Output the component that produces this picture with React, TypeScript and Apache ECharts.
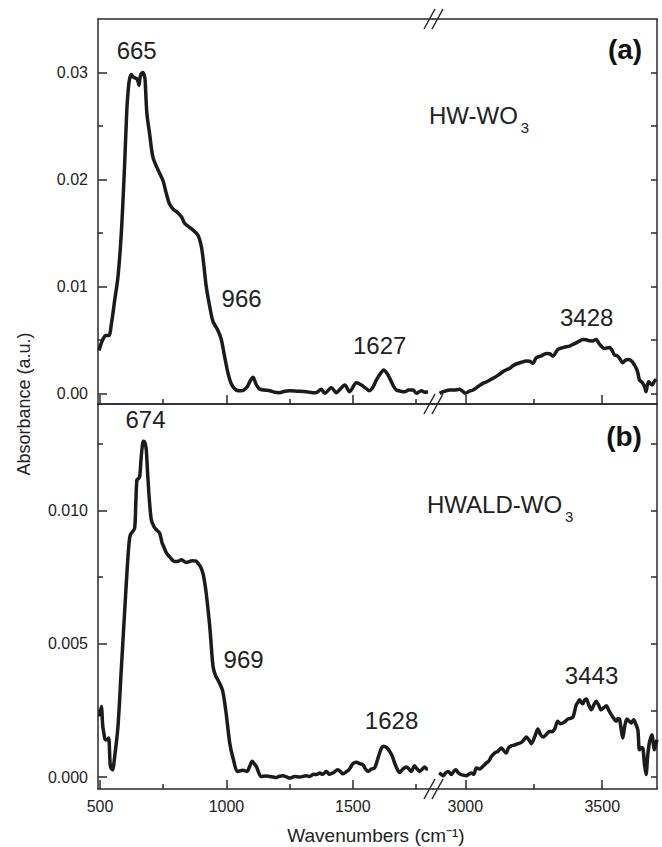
import React, { useEffect, useRef } from 'react';
import * as echarts from 'echarts';

// ---------- Data (wavenumber cm-1, absorbance a.u.) ----------
const aLeft: [number, number][] = [
  [496, 0.0040], [505, 0.0047], [515, 0.0052], [522, 0.0054], [535, 0.0054], [545, 0.0065], [558, 0.0087], [571, 0.0109],
  [584, 0.0149], [597, 0.0212], [606, 0.0265], [612, 0.0285], [617, 0.0294], [624, 0.0298], [630, 0.0296], [637, 0.0295],
  [646, 0.0294], [651, 0.0291], [654, 0.0288], [659, 0.0296], [664, 0.0299], [670, 0.0300], [675, 0.0297], [678, 0.0294],
  [682, 0.0275], [686, 0.0260], [696, 0.0243], [709, 0.0221], [729, 0.0209], [749, 0.0199], [762, 0.0187], [775, 0.0177],
  [790, 0.0172], [802, 0.0170], [822, 0.0165], [835, 0.0159], [861, 0.0154], [887, 0.0148], [901, 0.0137], [910, 0.0121],
  [920, 0.0100], [934, 0.0081], [947, 0.0067], [966, 0.0059], [980, 0.0050], [993, 0.0034], [1006, 0.0019], [1019, 0.0009],
  [1039, 0.0003], [1059, 0.00024], [1079, 0.0005], [1095, 0.0012], [1105, 0.0015], [1118, 0.0008], [1131, 0.0004], [1150, 0.0003],
  [1171, 0.00024], [1190, 0.0001], [1210, 0.00006], [1230, 0.0002], [1250, 0.00024], [1280, 0.0002], [1316, 0.00015], [1342, 0.00006],
  [1356, 0.00008], [1375, 0.00037], [1389, 0.0], [1415, 0.00053], [1435, 0.00006], [1450, 0.0004], [1468, 0.00078], [1487, 0.00015],
  [1514, 0.00099], [1534, 0.00078], [1550, 0.0005], [1566, 0.00024], [1580, 0.0006], [1593, 0.00124], [1608, 0.0018], [1622, 0.00218],
  [1634, 0.0019], [1646, 0.0014], [1660, 0.0007], [1672, 0.00031], [1690, 0.0002], [1705, 0.00015], [1720, 0.0003], [1738, 0.00031],
  [1751, 0.0], [1771, 0.00024], [1785, 0.0001], [1797, 0.00015],
];
const aRight: [number, number][] = [
  [2906, 0.0], [2925, 0.0002], [2943, 0.00031], [2960, 0.0003], [2979, 0.00037], [2990, 0.0002], [3000, 0.0], [3015, 0.0002],
  [3028, 0.00031], [3045, 0.0006], [3064, 0.00093], [3080, 0.0011], [3101, 0.0014], [3120, 0.0017], [3137, 0.00202], [3150, 0.0022],
  [3162, 0.00233], [3175, 0.0026], [3186, 0.00274], [3205, 0.0029], [3223, 0.00302], [3235, 0.0030], [3247, 0.0028], [3259, 0.00333],
  [3278, 0.0035], [3296, 0.00373], [3308, 0.0037], [3320, 0.00348], [3338, 0.00411], [3360, 0.0043], [3381, 0.00442], [3395, 0.0046],
  [3405, 0.00472], [3418, 0.0049], [3429, 0.00504], [3442, 0.0050], [3454, 0.00491], [3466, 0.0049], [3478, 0.00504], [3490, 0.0046],
  [3508, 0.0042], [3527, 0.00429], [3536, 0.0040], [3545, 0.00358], [3555, 0.0035], [3563, 0.00327], [3575, 0.00286], [3585, 0.0031],
  [3597, 0.00317], [3608, 0.0030], [3618, 0.00264], [3625, 0.0023], [3630, 0.00192], [3636, 0.00124], [3642, 0.0011], [3648, 0.00093],
  [3655, 0.0006], [3660, 0.00015], [3665, 0.0008], [3670, 0.00108], [3676, 0.0009], [3682, 0.00078], [3690, 0.0011], [3697, 0.00131],
];
const bLeft: [number, number][] = [
  [498, 0.00227], [505, 0.00265], [511, 0.0019], [516, 0.0016], [521, 0.0014], [528, 0.0014], [534, 0.00146], [541, 0.0004],
  [549, 0.00027], [558, 0.00077], [571, 0.0019], [584, 0.00402], [597, 0.00615], [608, 0.0079], [615, 0.0088], [620, 0.00909],
  [628, 0.0092], [637, 0.00934], [642, 0.0104], [646, 0.01115], [652, 0.0112], [657, 0.01128], [662, 0.0119], [667, 0.0124],
  [671, 0.0126], [675, 0.01259], [679, 0.0125], [683, 0.01228], [689, 0.01128], [696, 0.0103], [703, 0.00965], [713, 0.0094],
  [723, 0.00928], [736, 0.00915], [745, 0.0088], [752, 0.00865], [763, 0.0084], [775, 0.00827], [795, 0.00809], [810, 0.0081],
  [822, 0.00815], [841, 0.00805], [865, 0.00812], [880, 0.0081], [887, 0.00803], [897, 0.0079], [907, 0.00765], [914, 0.0073],
  [920, 0.0069], [934, 0.00565], [947, 0.00415], [957, 0.0038], [966, 0.00365], [984, 0.00327], [997, 0.00252], [1013, 0.00128],
  [1026, 0.00071], [1045, 0.00021], [1065, 0.00025], [1081, 0.00021], [1092, 0.0004], [1102, 0.00059], [1110, 0.0005], [1118, 0.0004],
  [1138, 0.00002], [1155, 0.00004], [1171, 0.00002], [1184, 0.0], [1197, -0.00002], [1210, 0.00003], [1224, 0.00005], [1238, 0.0],
  [1250, -0.00004], [1270, 0.00002], [1290, 0.0], [1316, 0.00005], [1329, 0.00002], [1345, 0.0001], [1356, 0.00009], [1369, 0.00015],
  [1380, 0.0001], [1395, 0.00021], [1408, 0.0001], [1421, 0.00015], [1441, 0.00027], [1451, 0.0002], [1461, 0.00012], [1475, 0.0002],
  [1487, 0.0003], [1500, 0.0005], [1514, 0.00055], [1527, 0.0005], [1540, 0.00046], [1550, 0.0003], [1560, 0.00021], [1573, 0.0003],
  [1586, 0.00034], [1596, 0.0006], [1606, 0.0009], [1614, 0.0011], [1622, 0.00115], [1634, 0.0011], [1646, 0.00096], [1655, 0.0008],
  [1665, 0.00053], [1675, 0.0003], [1685, 0.00017], [1698, 0.0003], [1712, 0.00038], [1722, 0.0003], [1731, 0.00021], [1744, 0.00042],
  [1754, 0.0003], [1764, 0.00021], [1775, 0.0003], [1784, 0.00038], [1792, 0.0003], [1797, 0.0003],
];
const bRight: [number, number][] = [
  [2904, 0.00015], [2912, 0.0001], [2919, 0.00005], [2928, 0.00015], [2937, 0.00021], [2949, 0.00009], [2957, 0.0002], [2965, 0.00027],
  [2975, 0.00015], [2985, 0.00009], [3004, 0.00005], [3012, 0.0001], [3022, 0.00015], [3031, 0.0001], [3040, 0.00034], [3052, 0.0003],
  [3064, 0.0004], [3077, 0.00053], [3086, 0.0006], [3095, 0.00077], [3107, 0.0009], [3119, 0.00096], [3131, 0.00109], [3140, 0.001],
  [3149, 0.0009], [3158, 0.0011], [3168, 0.00117], [3180, 0.0012], [3192, 0.00125], [3205, 0.0013], [3214, 0.0014], [3223, 0.0015],
  [3232, 0.0014], [3241, 0.00125], [3253, 0.0015], [3265, 0.0018], [3274, 0.0016], [3284, 0.0015], [3296, 0.0016], [3308, 0.00171],
  [3317, 0.0017], [3326, 0.0018], [3338, 0.00209], [3348, 0.002], [3356, 0.00203], [3366, 0.0021], [3375, 0.00218], [3384, 0.0022],
  [3393, 0.00225], [3400, 0.0025], [3405, 0.00271], [3411, 0.0028], [3417, 0.0029], [3423, 0.0028], [3429, 0.00275], [3436, 0.0029],
  [3442, 0.00293], [3451, 0.0027], [3460, 0.00252], [3469, 0.0027], [3478, 0.00284], [3487, 0.0027], [3496, 0.00252], [3506, 0.0026],
  [3515, 0.00267], [3524, 0.0025], [3533, 0.00234], [3542, 0.0022], [3551, 0.00209], [3557, 0.0022], [3563, 0.00218], [3569, 0.0018],
  [3575, 0.00146], [3582, 0.0019], [3590, 0.00218], [3598, 0.0021], [3606, 0.00203], [3615, 0.00215], [3622, 0.002], [3630, 0.00177],
  [3636, 0.00102], [3642, 0.0011], [3648, 0.00109], [3654, 0.0005], [3660, 0.00009], [3666, 0.0008], [3672, 0.00128], [3678, 0.0015],
  [3682, 0.00159], [3686, 0.0013], [3690, 0.00102], [3695, 0.0012], [3700, 0.0014],
];

// ---------- Ticks and labels ----------
const xMajorLeft = [500, 1000, 1500];
const xMinorLeft = [750, 1250, 1750];
const xMajorRight = [3000, 3500];
const xMinorRight = [3250];
const yMajorA = [0, 0.01, 0.02, 0.03];
const yMinorA = [0.005, 0.015, 0.025];
const yRightA = [0, 0.005, 0.01, 0.015, 0.02, 0.025, 0.03];
const yMajorB = [0, 0.005, 0.01];
const yMinorB = [0.0025, 0.0075, 0.0125];
const yRightB = [0, 0.0025, 0.005, 0.0075, 0.01, 0.0125];

const peakLabelsA = ['665', '966', '1627', '3428'];
const peakLabelsB = ['674', '969', '1628', '3443'];
const panelLabels = ['(a)', '(b)'];
const sampleNames = ['HW-WO', 'HWALD-WO'];
const sampleSub = '3';
const yTitle = 'Absorbance (a.u.)';
const xTitle = 'Wavenumbers (cm\u207B\u00B9)';

const FONT = '"Liberation Sans", Arial, Helvetica, sans-serif';
const LINE = '#2a2a2a';
const TRACE = '#1b1b1b';

function textWidth(text: string, font: string): number {
  const c = document.createElement('canvas').getContext('2d');
  if (!c) return text.length * 12;
  c.font = font;
  return c.measureText(text).width;
}

export default function App() {
  const ref = useRef<HTMLDivElement>(null);

  useEffect(() => {
    document.body.style.margin = '0';
    const chart = echarts.init(ref.current!, undefined, { renderer: 'svg' });

    const L = 98, SPLIT = 433, R = 657;
    const TA = 19, MID = 404, BB = 789;
    const xRangeL = [492, 1817];
    const xRangeR = [2882, 3700];
    const yRangeA = [-0.001, 0.035];
    const yRangeB = [-0.00045, 0.014];

    const grids = [
      { left: L, top: TA, width: SPLIT - L, height: MID - TA },
      { left: SPLIT, top: TA, width: R - SPLIT, height: MID - TA },
      { left: L, top: MID, width: SPLIT - L, height: BB - MID },
      { left: SPLIT, top: MID, width: R - SPLIT, height: BB - MID },
    ].map((g) => ({ ...g, containLabel: false, outerBoundsMode: 'none' }));

    const lineStyle = { color: LINE, width: 1.5 };
    const labelStyle = { color: '#222', fontSize: 16, fontFamily: FONT };

    const xAxesFor = (gridIndex: number, range: number[], majors: number[], minors: number[], showLabels: boolean) => [
      {
        type: 'value', gridIndex, min: range[0], max: range[1], position: 'bottom', splitLine: { show: false },
        axisLine: { show: true, onZero: false, lineStyle },
        axisTick: { show: true, inside: true, length: 9, customValues: majors, lineStyle },
        axisLabel: { show: showLabels, customValues: majors, margin: 9, formatter: (v: number) => String(v), ...labelStyle },
      },
      {
        type: 'value', gridIndex, min: range[0], max: range[1], position: 'bottom', splitLine: { show: false },
        axisLine: { show: false, onZero: false },
        axisTick: { show: true, inside: true, length: 5, customValues: minors, lineStyle },
        axisLabel: { show: false },
      },
      {
        type: 'value', gridIndex, min: range[0], max: range[1], position: 'top', splitLine: { show: false },
        axisLine: { show: true, onZero: false, lineStyle },
        axisTick: { show: false }, axisLabel: { show: false },
      },
    ];

    const yLeftFor = (gridIndex: number, range: number[], majors: number[], minors: number[], digits: number) => [
      {
        type: 'value', gridIndex, min: range[0], max: range[1], position: 'left', splitLine: { show: false },
        axisLine: { show: true, onZero: false, lineStyle },
        axisTick: { show: true, inside: true, length: 9, customValues: majors, lineStyle },
        axisLabel: { show: true, customValues: majors, margin: 10, formatter: (v: number) => v.toFixed(digits), ...labelStyle },
      },
      {
        type: 'value', gridIndex, min: range[0], max: range[1], position: 'left', splitLine: { show: false },
        axisLine: { show: false, onZero: false },
        axisTick: { show: true, inside: true, length: 5, customValues: minors, lineStyle },
        axisLabel: { show: false },
      },
    ];
    const yRightFor = (gridIndex: number, range: number[], ticks: number[]) => ({
      type: 'value', gridIndex, min: range[0], max: range[1], position: 'right', splitLine: { show: false },
      axisLine: { show: true, onZero: false, lineStyle },
      axisTick: { show: true, inside: true, length: 6, customValues: ticks, lineStyle },
      axisLabel: { show: false },
    });

    const xAxis = [
      ...xAxesFor(0, xRangeL, xMajorLeft, xMinorLeft, false), // 0,1,2
      ...xAxesFor(1, xRangeR, xMajorRight, xMinorRight, false), // 3,4,5
      ...xAxesFor(2, xRangeL, xMajorLeft, xMinorLeft, true), // 6,7,8
      ...xAxesFor(3, xRangeR, xMajorRight, xMinorRight, true), // 9,10,11
    ];
    const yAxis = [
      ...yLeftFor(0, yRangeA, yMajorA, yMinorA, 2), // 0,1
      yRightFor(1, yRangeA, yRightA), // 2
      ...yLeftFor(2, yRangeB, yMajorB, yMinorB, 3), // 3,4
      yRightFor(3, yRangeB, yRightB), // 5
    ];

    const peakLabel = (text: string, coord: [number, number]) => ({
      coord, symbol: 'circle', symbolSize: 1, itemStyle: { color: 'rgba(0,0,0,0)' },
      label: { show: true, position: 'inside', formatter: text, color: '#222', fontSize: 24, fontFamily: FONT },
    });

    const mk = (data: [number, number][], xi: number, yi: number, marks: any[]) => ({
      type: 'line', data, xAxisIndex: xi, yAxisIndex: yi, showSymbol: false, smooth: 0.3, clip: true,
      lineStyle: { color: TRACE, width: 3.5 }, silent: true,
      markPoint: { silent: true, data: marks },
    });

    const series = [
      mk(aLeft, 0, 0, [
        peakLabel(peakLabelsA[0], [645, 0.0321]),
        peakLabel(peakLabelsA[1], [1060, 0.0089]),
        peakLabel(peakLabelsA[2], [1606, 0.00451]),
      ]),
      mk(aRight, 3, 2, [peakLabel(peakLabelsA[3], [3443, 0.00712])]),
      mk(bLeft, 6, 3, [
        peakLabel(peakLabelsB[0], [680, 0.0134]),
        peakLabel(peakLabelsB[1], [1068, 0.0044]),
        peakLabel(peakLabelsB[2], [1653, 0.00211]),
      ]),
      mk(bRight, 9, 5, [peakLabel(peakLabelsB[3], [3461, 0.0038])]),
    ];

    const slash = (x1: number, y1: number, x2: number, y2: number) => ({
      type: 'line', silent: true, shape: { x1, y1, x2, y2 }, style: { stroke: LINE, lineWidth: 1.5 },
    });
    const breakMarks = (yc: number) => [
      slash(424, yc + 10, 435, yc - 10),
      slash(432, yc + 10, 443, yc - 10),
    ];

    const nameFont = `24px ${FONT}`;
    const subFont = `15px ${FONT}`;
    const wA = textWidth(sampleNames[0], nameFont);
    const wB = textWidth(sampleNames[1], nameFont);
    const xA = 429, xB = 427;

    const graphic = [
      ...breakMarks(TA), ...breakMarks(MID), ...breakMarks(BB),
      { type: 'text', x: 625, y: 49, style: { text: panelLabels[0], font: `bold 28px ${FONT}`, fill: '#111', align: 'center', verticalAlign: 'middle' } },
      { type: 'text', x: 624, y: 436, style: { text: panelLabels[1], font: `bold 28px ${FONT}`, fill: '#111', align: 'center', verticalAlign: 'middle' } },
      { type: 'text', x: xA, y: 115, style: { text: sampleNames[0], font: nameFont, fill: '#222', align: 'left', verticalAlign: 'middle' } },
      { type: 'text', x: xA + wA + 3, y: 127, style: { text: sampleSub, font: subFont, fill: '#222', align: 'left', verticalAlign: 'middle' } },
      { type: 'text', x: xB, y: 504, style: { text: sampleNames[1], font: nameFont, fill: '#222', align: 'left', verticalAlign: 'middle' } },
      { type: 'text', x: xB + wB + 3, y: 516, style: { text: sampleSub, font: subFont, fill: '#222', align: 'left', verticalAlign: 'middle' } },
      { type: 'text', x: 24, y: 404, rotation: Math.PI / 2, style: { text: yTitle, font: `18px ${FONT}`, fill: '#222', align: 'center', verticalAlign: 'middle' } },
      { type: 'text', x: 376, y: 835, style: { text: xTitle, font: `19px ${FONT}`, fill: '#222', align: 'center', verticalAlign: 'middle' } },
    ];

    chart.setOption({
      animation: false,
      backgroundColor: '#fff',
      grid: grids,
      xAxis,
      yAxis,
      series,
      graphic,
    } as any);

    return () => chart.dispose();
  }, []);

  return <div ref={ref} style={{ width: 662, height: 847 }} />;
}
